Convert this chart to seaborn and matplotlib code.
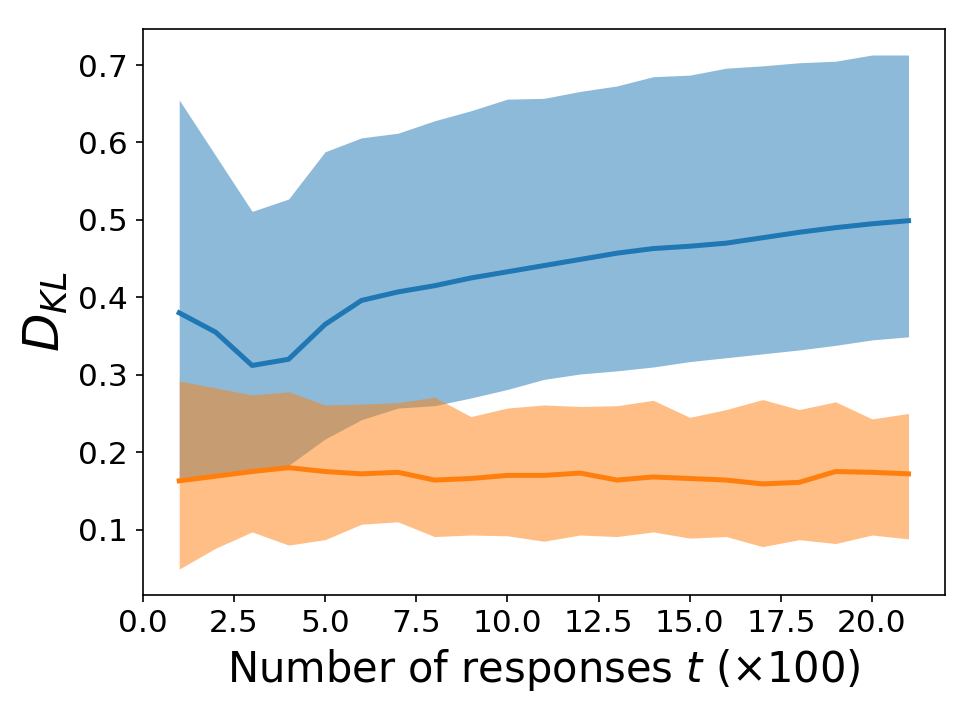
"""Mean KL divergence with spread bands versus number of responses."""

import matplotlib

matplotlib.use("Agg")

import matplotlib.pyplot as plt
import matplotlib.ticker as mticker
import pandas as pd
import seaborn as sns

# number of responses t (x100)
steps = list(range(1, 22))

# first method (blue): mean and band
blue_mean = [0.380, 0.355, 0.312, 0.320, 0.365, 0.396, 0.407, 0.415, 0.425, 0.433,
             0.441, 0.449, 0.457, 0.463, 0.466, 0.470, 0.477, 0.484, 0.490, 0.495, 0.499]
blue_upper = [0.655, 0.583, 0.511, 0.527, 0.588, 0.606, 0.612, 0.628, 0.641, 0.656,
              0.657, 0.666, 0.673, 0.685, 0.687, 0.696, 0.699, 0.703, 0.705, 0.713, 0.713]
blue_lower = [0.166, 0.171, 0.177, 0.183, 0.217, 0.242, 0.257, 0.260, 0.270, 0.281,
              0.294, 0.301, 0.305, 0.310, 0.317, 0.322, 0.327, 0.332, 0.338, 0.345, 0.349]

# second method (orange): mean and band
orange_mean = [0.163, 0.169, 0.175, 0.180, 0.175, 0.172, 0.174, 0.164, 0.166, 0.170,
               0.170, 0.173, 0.164, 0.168, 0.166, 0.164, 0.159, 0.161, 0.175, 0.174, 0.172]
orange_upper = [0.292, 0.283, 0.274, 0.278, 0.261, 0.262, 0.264, 0.271, 0.246, 0.257,
                0.261, 0.259, 0.260, 0.267, 0.245, 0.255, 0.268, 0.255, 0.265, 0.243, 0.250]
orange_lower = [0.049, 0.076, 0.097, 0.080, 0.087, 0.107, 0.110, 0.091, 0.093, 0.092,
                0.085, 0.093, 0.091, 0.097, 0.089, 0.091, 0.078, 0.087, 0.082, 0.093, 0.088]

COLORS = {"blue": "#1f77b4", "orange": "#ff7f0e"}

data = pd.concat(
    [
        pd.DataFrame({"t": steps, "kl": blue_mean, "method": "blue"}),
        pd.DataFrame({"t": steps, "kl": orange_mean, "method": "orange"}),
    ],
    ignore_index=True,
)

plt.rcParams["font.family"] = ["DejaVu Sans"]
plt.rcParams["mathtext.fontset"] = "dejavusans"

fig = plt.figure(figsize=(6.5, 4.8), dpi=150)
ax = fig.add_axes([0.1464, 0.1739, 0.8228, 0.7854])

ax.fill_between(steps, blue_lower, blue_upper, color=COLORS["blue"], alpha=0.5, linewidth=0)
ax.fill_between(steps, orange_lower, orange_upper, color=COLORS["orange"], alpha=0.5, linewidth=0)

sns.lineplot(
    data=data,
    x="t",
    y="kl",
    hue="method",
    palette=COLORS,
    linewidth=2.4,
    legend=False,
    ax=ax,
)

ax.set_xlabel(r"Number of responses $t$ ($\times$100)", fontsize=20)
ax.set_ylabel(r"$D_{KL}$", fontsize=24)
ax.tick_params(axis="both", labelsize=15)
ax.xaxis.set_major_locator(mticker.MultipleLocator(2.5))
ax.xaxis.set_major_formatter(mticker.FormatStrFormatter("%.1f"))
ax.set_yticks([0.1, 0.2, 0.3, 0.4, 0.5, 0.6, 0.7])
ax.margins(x=0.05, y=0.05)
ax.set_xlim(0, 22)

fig.savefig("out.png", dpi=150)
